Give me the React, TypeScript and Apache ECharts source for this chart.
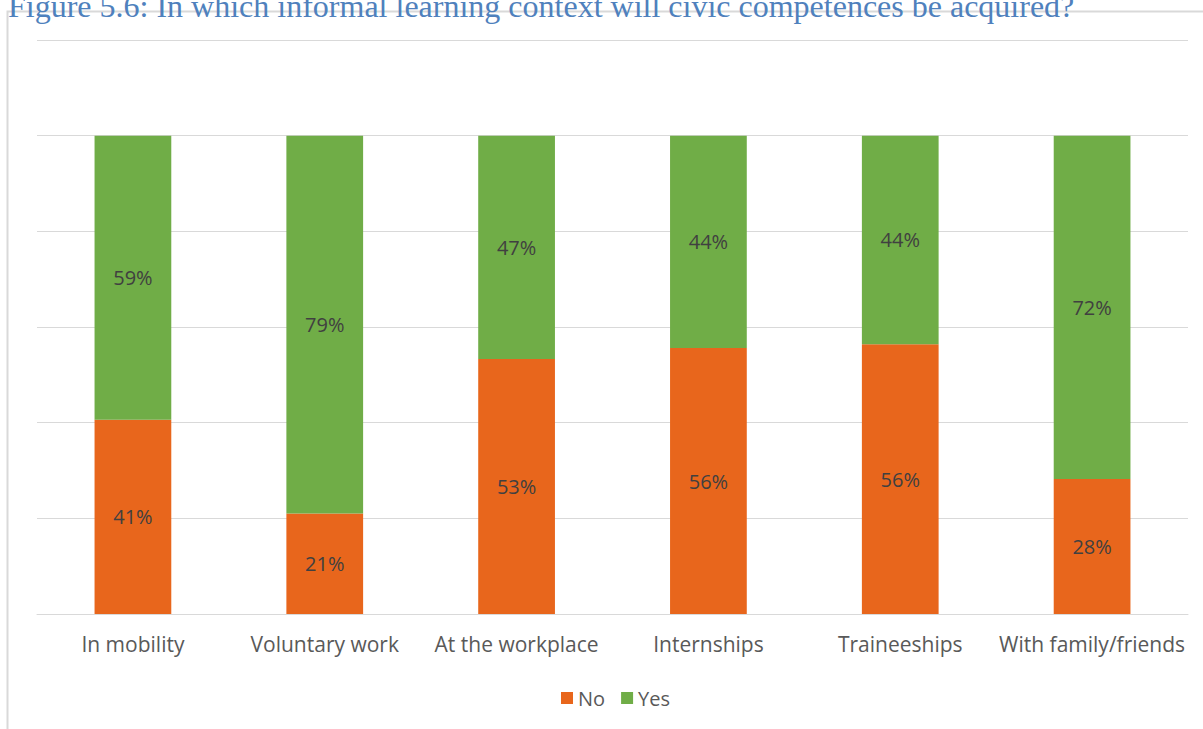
import React, { useEffect, useRef } from "react";
import * as echarts from "echarts";

// Informal learning contexts and the share of respondents answering No / Yes (%)
const categories = [
  "In mobility",
  "Voluntary work",
  "At the workplace",
  "Internships",
  "Traineeships",
  "With family/friends",
];
const noValues = [40.6, 21, 53.3, 55.6, 56.4, 28.2];
const yesValues = [59.4, 79, 46.7, 44.4, 43.6, 71.8];
const seriesNames = ["No", "Yes"];
const titleText =
  "Figure 5.6: In which informal learning context will civic competences be acquired?";

const FONT = "'Open Sans', 'Noto Sans', sans-serif";

export default function App() {
  const ref = useRef<HTMLDivElement>(null);

  useEffect(() => {
    if (!ref.current) return;
    const chart = echarts.init(ref.current, undefined, { renderer: "svg" });

    const labelOpt = {
      show: true,
      position: "inside" as const,
      color: "#404040",
      fontSize: 20,
      fontFamily: FONT,
      formatter: (p: any) => `${Math.round(p.value)}%`,
    };

    chart.setOption({
      animation: false,
      backgroundColor: "#ffffff",
      textStyle: { fontFamily: FONT },
      graphic: [
        {
          type: "rect",
          silent: true,
          shape: { x: 7.5, y: 11.5, width: 1400, height: 900 },
          style: { fill: "none", stroke: "#D9D9D9", lineWidth: 2 },
        },
        {
          type: "text",
          left: 8,
          top: -10,
          silent: true,
          style: {
            text: titleText,
            fill: "#4F81BD",
            font: "32px 'Liberation Serif', 'DejaVu Serif', serif",
          },
        },
      ],
      grid: { left: 37, right: 15, top: 40, bottom: 729 - 614 },
      legend: {
        left: 556,
        top: 683,
        itemWidth: 12,
        itemHeight: 12,
        itemGap: 16,
        icon: "rect",
        textStyle: { color: "#595959", fontSize: 20, fontFamily: FONT },
        data: seriesNames,
      },
      xAxis: {
        type: "category",
        data: categories,
        axisLine: { lineStyle: { color: "#D9D9D9", width: 1 } },
        axisTick: { show: false },
        axisLabel: {
          color: "#595959",
          fontSize: 21,
          fontFamily: FONT,
          margin: 19,
          interval: 0,
        },
      },
      yAxis: {
        type: "value",
        min: 0,
        max: 120,
        interval: 20,
        axisLabel: { show: false },
        axisLine: { show: false },
        axisTick: { show: false },
        splitLine: { lineStyle: { color: "#D9D9D9", width: 1 } },
      },
      series: [
        {
          name: seriesNames[0],
          type: "bar",
          stack: "total",
          barWidth: "40%",
          data: noValues,
          itemStyle: { color: "#E8661C" },
          label: labelOpt,
        },
        {
          name: seriesNames[1],
          type: "bar",
          stack: "total",
          barWidth: "40%",
          data: yesValues,
          itemStyle: { color: "#70AD47" },
          label: labelOpt,
        },
      ],
    });

    return () => chart.dispose();
  }, []);

  return (
    <div
      ref={ref}
      style={{ position: "absolute", left: 0, top: 0, width: 1203, height: 729 }}
    />
  );
}
